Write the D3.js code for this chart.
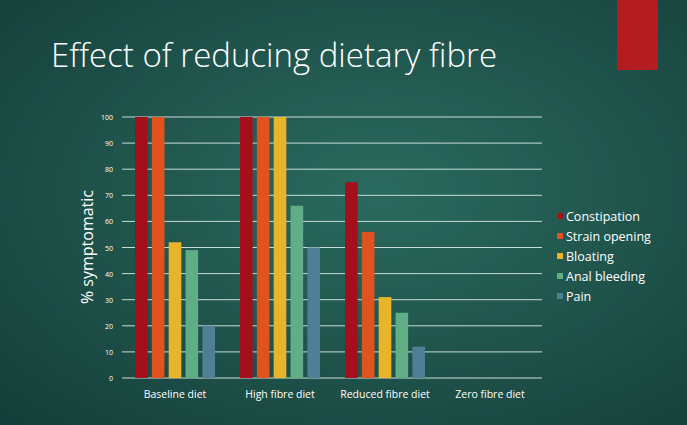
<!DOCTYPE html>
<html><head><meta charset="utf-8">
<script src="https://cdn.jsdelivr.net/npm/d3@7"></script>
<style>body{margin:0;background:#1c4f47;}svg{display:block;font-family:"Open Sans",sans-serif;}</style>
</head><body><svg id="c" width="687" height="425"></svg>
<script>
const categories = ["Baseline diet", "High fibre diet", "Reduced fibre diet", "Zero fibre diet"];
const series = ["Constipation", "Strain opening", "Bloating", "Anal bleeding", "Pain"];
const colors = ["#a3101c", "#e0521e", "#e8b52a", "#5fae86", "#4f7f95"];
const values = [
  [100, 100, 75, 0],
  [100, 100, 56, 0],
  [52, 100, 31, 0],
  [49, 66, 25, 0],
  [20, 50, 12, 0]
];
const yTicks = [0, 10, 20, 30, 40, 50, 60, 70, 80, 90, 100];

const svg = d3.select("#c");
const defs = svg.append("defs");
const grad = defs.append("radialGradient").attr("id", "bg").attr("cx", "55%").attr("cy", "45%").attr("r", "75%");
grad.append("stop").attr("offset", "0%").attr("stop-color", "#2a6a5e");
grad.append("stop").attr("offset", "100%").attr("stop-color", "#153f3a");
svg.append("rect").attr("width", 687).attr("height", 425).attr("fill", "url(#bg)");
svg.append("rect").attr("x", 617).attr("y", 0).attr("width", 41).attr("height", 70).attr("fill", "#b41d1f");

svg.append("text").attr("x", 51).attr("y", 67).attr("fill", "#fff")
  .attr("font-size", 33).attr("font-weight", 300).text("Effect of reducing dietary fibre");

const x = d3.scaleBand().domain(categories).range([122, 542]);
const y = d3.scaleLinear().domain([0, 100]).range([378, 117]);

svg.append("g").selectAll("line").data(yTicks).join("line")
  .attr("x1", 122).attr("x2", 542).attr("y1", d => y(d)).attr("y2", d => y(d))
  .attr("stroke", "#c9ddd8").attr("stroke-width", 1);

svg.append("g").selectAll("text").data(yTicks).join("text")
  .attr("x", 113).attr("y", d => y(d) + 3).attr("text-anchor", "end")
  .attr("fill", "#fff").attr("font-size", 7).text(d => d);

svg.append("text").attr("transform", "translate(93,247) rotate(-90)").attr("text-anchor", "middle")
  .attr("fill", "#fff").attr("font-size", 16).text("% symptomatic");

const xs = d3.scaleBand().domain(d3.range(series.length)).range([13, 93]).paddingInner(0.25);
series.forEach((s, i) => {
  svg.append("g").selectAll("rect").data(values[i]).join("rect")
    .attr("x", (d, j) => x(categories[j]) + xs(i))
    .attr("width", xs.bandwidth())
    .attr("y", d => y(d)).attr("height", d => y(0) - y(d))
    .attr("fill", colors[i]);
});

svg.append("g").selectAll("text").data(categories).join("text")
  .attr("x", d => x(d) + 53).attr("y", 398).attr("text-anchor", "middle")
  .attr("fill", "#fff").attr("font-size", 10.5).text(d => d);

const lg = svg.append("g").selectAll("g").data(series).join("g")
  .attr("transform", (d, i) => `translate(557,${217 + i * 20})`);
lg.append("rect").attr("x", 0).attr("y", -4).attr("width", 6).attr("height", 6).attr("fill", (d, i) => colors[i]);
lg.append("text").attr("x", 9).attr("y", 3.5).attr("fill", "#fff").attr("font-size", 12.5).text(d => d);
</script></body></html>
